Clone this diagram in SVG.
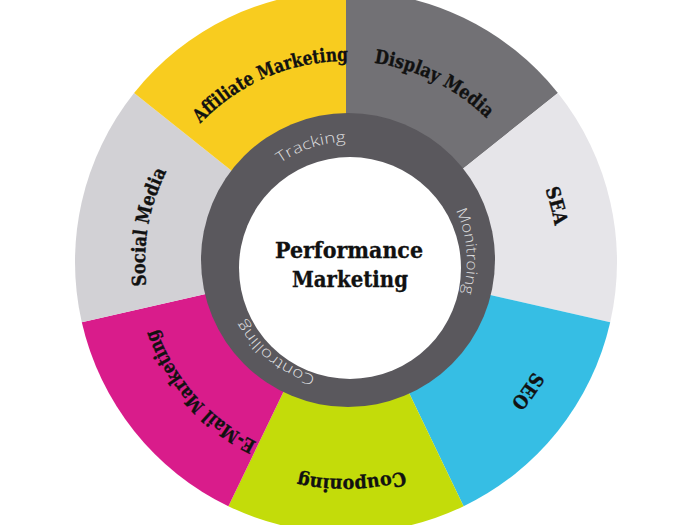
<svg xmlns="http://www.w3.org/2000/svg" width="700" height="525" viewBox="0 0 700 525">
<style>
.seg{font-family:"DejaVu Serif","Liberation Serif",serif;font-weight:bold;font-size:19px;fill:#111;stroke:#111;stroke-width:0.35}
.ring{font-family:"Open Sans","Lato","Liberation Sans",sans-serif;font-weight:300;font-size:15px;fill:#dcdcde}
.ctr{font-family:"DejaVu Serif","Liberation Serif",serif;font-weight:bold;font-size:22px;fill:#111;stroke:#111;stroke-width:0.35;text-anchor:middle}
</style>
<defs>
<path id="r201" d="M346 61 A201 201 0 1 1 346 463 A201 201 0 1 1 346 61 A201 201 0 1 1 346 463"/>
<path id="r212" d="M346 50 A212 212 0 1 1 346 474 A212 212 0 1 1 346 50 A212 212 0 1 1 346 474"/>
<path id="r217" d="M346 45 A217 217 0 1 1 346 479 A217 217 0 1 1 346 45 A217 217 0 1 1 346 479"/>
<path id="ri" d="M348 142 A119 119 0 1 1 348 380 A119 119 0 1 1 348 142 A119 119 0 1 1 348 380"/>
</defs>
<rect width="700" height="525" fill="#ffffff"/>
<g id="display-media">
<path d="M346 262 L346 -9 A271 271 0 0 1 557.9 93 Z" fill="#727175"/>
<text class="seg" text-anchor="middle"><textPath href="#r201" startOffset="92" textLength="128" lengthAdjust="spacingAndGlyphs">Display Media</textPath></text>
</g>
<g id="sea">
<path d="M346 262 L557.9 93 A271 271 0 0 1 610.2 322.3 Z" fill="#E6E5E9"/>
<text class="seg" text-anchor="middle"><textPath href="#r212" startOffset="277.5" textLength="38" lengthAdjust="spacingAndGlyphs">SEA</textPath></text>
</g>
<g id="seo">
<path d="M346 262 L610.2 322.3 A271 271 0 0 1 463.6 506.2 Z" fill="#36BEE4"/>
<text class="seg" text-anchor="middle"><textPath href="#r217" startOffset="475" textLength="39" lengthAdjust="spacingAndGlyphs">SEO</textPath></text>
</g>
<g id="couponing">
<path d="M346 262 L463.6 506.2 A271 271 0 0 1 228.4 506.2 Z" fill="#C3DC0A"/>
<text class="seg" text-anchor="middle"><textPath href="#r217" startOffset="676" textLength="107" lengthAdjust="spacingAndGlyphs">Couponing</textPath></text>
</g>
<g id="email-marketing">
<path d="M346 262 L228.4 506.2 A271 271 0 0 1 81.8 322.3 Z" fill="#D91C8B"/>
<text class="seg" text-anchor="middle"><textPath href="#r201" startOffset="801" textLength="155" lengthAdjust="spacingAndGlyphs">E-Mail Marketing</textPath></text>
</g>
<g id="social-media">
<path d="M346 262 L81.8 322.3 A271 271 0 0 1 134.1 93 Z" fill="#D2D1D5"/>
<text class="seg" text-anchor="middle"><textPath href="#r201" startOffset="982" textLength="118" lengthAdjust="spacingAndGlyphs">Social Media</textPath></text>
</g>
<g id="affiliate-marketing">
<path d="M346 262 L134.1 93 A271 271 0 0 1 346 -9 Z" fill="#F8CC1F"/>
<text class="seg" text-anchor="middle"><textPath href="#r201" startOffset="1182" textLength="165" lengthAdjust="spacingAndGlyphs">Affiliate Marketing</textPath></text>
</g>
<g id="ring">
<circle cx="348" cy="260" r="147" fill="#5A585D"/>
<text class="ring" text-anchor="middle"><textPath href="#ri" startOffset="710" textLength="70" lengthAdjust="spacingAndGlyphs">Tracking</textPath></text>
<text class="ring" text-anchor="middle"><textPath href="#ri" startOffset="177" textLength="85" lengthAdjust="spacingAndGlyphs">Monitroing</textPath></text>
<text class="ring" text-anchor="middle"><textPath href="#ri" startOffset="453" textLength="93" lengthAdjust="spacingAndGlyphs">Controlling</textPath></text>
</g>
<g id="performance-marketing">
<circle cx="350" cy="268" r="111" fill="#ffffff"/>
<text class="ctr" x="349" y="258" textLength="148" lengthAdjust="spacingAndGlyphs">Performance</text>
<text class="ctr" x="350" y="287" textLength="116" lengthAdjust="spacingAndGlyphs">Marketing</text>
</g>
<g id="connectors"/>
</svg>
